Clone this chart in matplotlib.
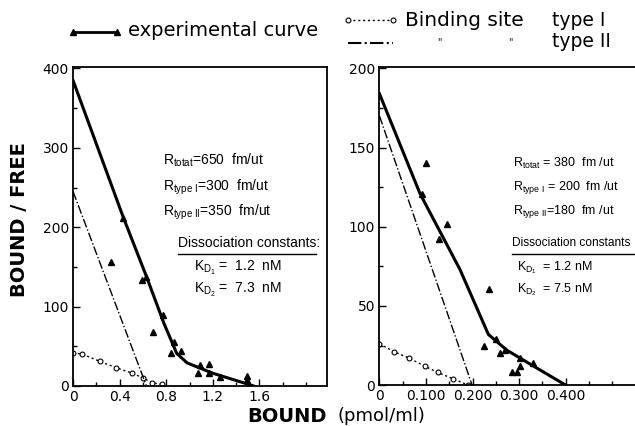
import matplotlib
matplotlib.use("Agg")
import matplotlib.pyplot as plt
from matplotlib.lines import Line2D

# left panel (first tissue)
exp_curve_x_a = [0, 0.43, 0.63, 0.78, 0.89, 0.98, 1.2, 1.55]
exp_curve_y_a = [385, 213, 138, 79, 41, 29, 16, 0]
tri_x_a = [0.33, 0.43, 0.59, 0.63, 0.69, 0.77, 0.84, 0.87, 0.93, 1.07, 1.09, 1.17, 1.17, 1.26, 1.49, 1.49]
tri_y_a = [156, 212, 133, 137, 68, 89, 41, 55, 44, 16, 26, 28, 16, 11, 13, 7]
type1_x_a = [0, 0.08, 0.23, 0.37, 0.51, 0.6, 0.68, 0.76]
type1_y_a = [42, 40, 31, 23, 16, 10, 4, 2]
type2_x_a = [0, 0.63]
type2_y_a = [245, 0]

# right panel (second tissue)
exp_curve_x_b = [0, 0.087, 0.173, 0.234, 0.274, 0.331, 0.40]
exp_curve_y_b = [184, 121, 73, 32, 22, 12, 0]
tri_x_b = [0.10, 0.091, 0.127, 0.145, 0.236, 0.225, 0.251, 0.259, 0.269, 0.285, 0.295, 0.301, 0.302, 0.329]
tri_y_b = [140, 121, 92, 102, 61, 25, 29, 20, 22, 8, 8, 17, 12, 14]
type1_x_b = [0, 0.032, 0.064, 0.097, 0.125, 0.158, 0.191]
type1_y_b = [26, 21, 17, 12, 8, 4, 0]
type2_x_b = [0, 0.199]
type2_y_b = [170, 0]

xticks_a = [0, 0.4, 0.8, 1.2, 1.6]
xtick_labels_a = ["0", "0.4", "0.8", "1.2", "1.6"]
yticks_a = [0, 100, 200, 300, 400]
xticks_b = [0, 0.1, 0.2, 0.3, 0.4]
xtick_labels_b = ["0", "0.100", "0.200", "0.300", "0.400"]
yticks_b = [0, 50, 100, 150, 200]

text_a = ["R$_{totat}$=650  fm/ut", "R$_{type\\ I}$=300  fm/ut", "R$_{type\\ II}$=350  fm/ut"]
kd_a = ["K$_{D_1}$ =  1.2  nM", "K$_{D_2}$ =  7.3  nM"]
text_b = ["R$_{totat}$ = 380  fm /ut", "R$_{type\\ I}$ = 200  fm /ut", "R$_{type\\ II}$=180  fm /ut"]
kd_b = ["K$_{D_1}$  = 1.2 nM", "K$_{D_2}$  = 7.5 nM"]

narrow = 'Liberation Sans'

plt.rcParams['font.family'] = 'DejaVu Sans'
plt.rcParams['mathtext.fontset'] = 'custom'
plt.rcParams['mathtext.rm'] = narrow
plt.rcParams['mathtext.it'] = narrow

fig = plt.figure(figsize=(6.35, 4.26), dpi=100)
ax1 = fig.add_axes([0.115, 0.094, 0.400, 0.749])
ax2 = fig.add_axes([0.5976, 0.096, 0.4024, 0.747])


def draw_panel(ax, cx, cy, tx, ty, t1x, t1y, t2x, t2y):
    ax.plot(cx, cy, color='black', lw=2.2, zorder=3)
    ax.plot(tx, ty, '^', color='black', ms=5, ls='none', zorder=4)
    ax.plot(t1x, t1y, color='black', lw=1, ls=(0, (1.5, 2)), marker='o',
            mfc='white', mec='black', ms=3.5, mew=0.8)
    ax.plot(t2x, t2y, color='black', lw=1, ls='-.')
    ax.tick_params(direction='in', length=5, width=1, labelsize=10, pad=3)
    ax.tick_params(which='minor', direction='in', length=3, width=1)
    for s in ax.spines.values():
        s.set_linewidth(1.3)


draw_panel(ax1, exp_curve_x_a, exp_curve_y_a, tri_x_a, tri_y_a,
           type1_x_a, type1_y_a, type2_x_a, type2_y_a)
ax1.set_xlim(0, 2.18)
ax1.set_ylim(0, 402)
ax1.set_xticks(xticks_a, xtick_labels_a)
ax1.set_xticks([0.2, 0.6, 1.0, 1.4, 1.8, 2.0], minor=True)
ax1.set_yticks(yticks_a)
ax1.set_yticks([50, 150, 250, 350], minor=True)

draw_panel(ax2, exp_curve_x_b, exp_curve_y_b, tri_x_b, tri_y_b,
           type1_x_b, type1_y_b, type2_x_b, type2_y_b)
ax2.set_xlim(0, 0.549)
ax2.set_ylim(0, 201)
ax2.set_xticks(xticks_b, xtick_labels_b)
ax2.set_xticks([0.05, 0.15, 0.25, 0.35, 0.45, 0.5], minor=True)
ax2.set_yticks(yticks_b)
ax2.set_yticks([25, 75, 125, 175], minor=True)
ax2.spines['right'].set_visible(False)

# annotations
tkw = dict(fontsize=10, va='center', family=narrow)
for yy, s in zip([0.708, 0.624, 0.545], text_a):
    ax1.text(0.354, yy, s, transform=ax1.transAxes, **tkw)
ax1.text(0.413, 0.447, "Dissociation constants:", transform=ax1.transAxes, **tkw)
ax1.plot([0.413, 0.955], [0.415, 0.415], transform=ax1.transAxes, color='black', lw=1)
for yy, s in zip([0.370, 0.301], kd_a):
    ax1.text(0.476, yy, s, transform=ax1.transAxes, **tkw)

tkw_b = dict(fontsize=9, va='center', family=narrow)
for yy, s in zip([0.698, 0.620, 0.544], text_b):
    ax2.text(0.522, yy, s, transform=ax2.transAxes, **tkw_b)
ax2.text(0.518, 0.445, "Dissociation constants", transform=ax2.transAxes,
         fontsize=8.6, va='center', family=narrow)
ax2.plot([0.518, 1.0], [0.413, 0.413], transform=ax2.transAxes, color='black', lw=1)
for yy, s in zip([0.368, 0.299], kd_b):
    ax2.text(0.538, yy, s, transform=ax2.transAxes, **tkw_b)

# axis labels
fig.text(0.031, 0.484, "BOUND / FREE", rotation=90, fontsize=14, ha='center',
         va='center', fontweight='bold')
fig.text(0.389, 0.023, "BOUND", fontsize=14, ha='left', va='center', fontweight='bold')
fig.text(0.532, 0.023, "(pmol/ml)", fontsize=13, ha='left', va='center')

# legend at top
fig.add_artist(Line2D([0.115, 0.184], [0.925, 0.925], color='black', lw=2,
                      marker='^', markevery=[0, 1], ms=5))
fig.text(0.202, 0.928, "experimental curve", fontsize=14, va='center')
fig.add_artist(Line2D([0.548, 0.619], [0.953, 0.953], color='black', lw=1,
                      ls=(0, (1.5, 2)), marker='o', markevery=[0, 1], ms=3.5,
                      mfc='white', mew=0.8))
fig.text(0.638, 0.953, "Binding site", fontsize=14.5, va='center')
fig.text(0.869, 0.953, "type I", fontsize=13.5, va='center')
fig.add_artist(Line2D([0.548, 0.619], [0.899, 0.899], color='black', lw=1.5, ls='-.'))
fig.text(0.688, 0.902, "\"", fontsize=7, va='center')
fig.text(0.800, 0.902, "\"", fontsize=7, va='center')
fig.text(0.869, 0.902, "type II", fontsize=13.5, va='center')

fig.savefig("out.png", dpi=100)
